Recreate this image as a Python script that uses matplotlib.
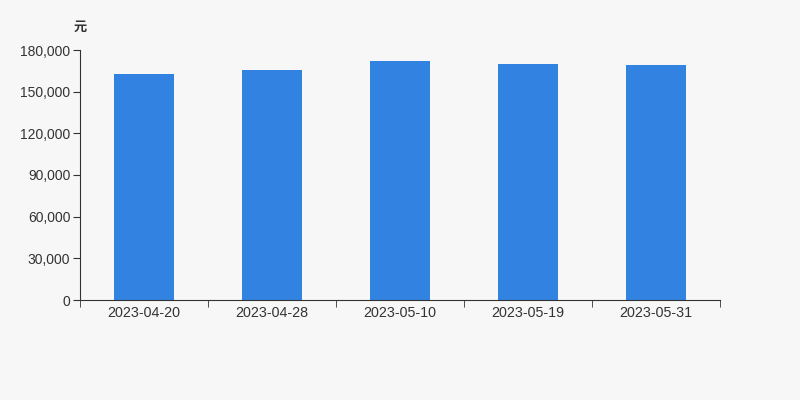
import matplotlib
matplotlib.use("Agg")
from matplotlib import pyplot as plt

# data
dates = ["2023-04-20", "2023-04-28", "2023-05-10", "2023-05-19", "2023-05-31"]
values = [162700, 165800, 172000, 169900, 169200]
y_ticks = [0, 30000, 60000, 90000, 120000, 150000, 180000]

plt.rcParams['font.family'] = ['Liberation Sans', 'Noto Sans CJK SC', 'DejaVu Sans']

fig = plt.figure(figsize=(8, 4), dpi=100, facecolor='#f7f7f7')
ax = fig.add_axes([0.1, 0.25, 0.8, 0.625])
ax.set_facecolor('#f7f7f7')

x = range(len(dates))
ax.bar(x, values, width=60 / 128, color='#3282e2')

ax.set_xlim(-0.5, len(dates) - 0.5)
ax.set_ylim(0, 180000)
ax.set_yticks(y_ticks)
ax.set_yticklabels([f"{v:,}" for v in y_ticks])

# category labels centred, tick marks on the boundaries
ax.set_xticks(list(x))
ax.set_xticklabels(dates)
ax.tick_params(axis='x', length=0, pad=4, labelsize=10.3, colors='#333333')
ax.set_xticks([i - 0.5 for i in range(len(dates) + 1)], minor=True)
ax.tick_params(axis='x', which='minor', length=5, color='#333333')
ax.tick_params(axis='y', length=5, pad=2, labelsize=10, color='#333333', labelcolor='#333333')

for s in ['top', 'right']:
    ax.spines[s].set_visible(False)
ax.spines['left'].set_color('#333333')
ax.spines['bottom'].set_color('#333333')

fig.text(0.1, 0.932, "元", ha='center', va='center', fontsize=9.5,
         color='#333333', fontweight='bold', family=['Noto Sans CJK SC', 'DejaVu Sans'])

fig.savefig("out.png", dpi=100, facecolor=fig.get_facecolor())
